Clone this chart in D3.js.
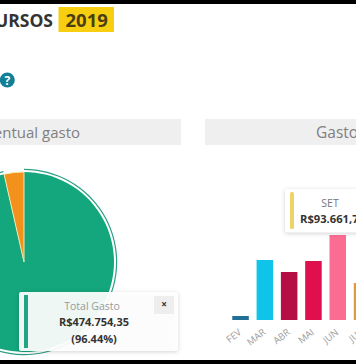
<!DOCTYPE html>
<html><head><meta charset="utf-8">
<script src="https://cdn.jsdelivr.net/npm/d3@7"></script>
<style>html,body{margin:0;padding:0;background:#fff;overflow:hidden}svg{display:block}</style>
</head><body><svg id="c" width="356" height="364"></svg>
<script>
const months=["FEV","MAR","ABR","MAI","JUN","JUL"];
const monthValues=[4000,60000,48000,59000,85000,37000];
const monthColors=["#1f6f96","#0fc4e8","#b40e45","#e0104f","#fb6c93","#e09a3a"];
const pieNames=["Total Gasto","Restante"];
const pieValues=[474754.35,17526];
const pieColors=["#14a67c","#f2921d"];
const svg=d3.select("#c");
const font="'Open Sans',sans-serif";
const T=(x,y,s,size,fill,anchor,weight)=>svg.append("text").attr("x",x).attr("y",y).text(s).attr("font-family",font).attr("font-size",size).attr("fill",fill).attr("text-anchor",anchor||"start").attr("font-weight",weight||400);
const R=(x,y,w,h,f)=>svg.append("rect").attr("x",x).attr("y",y).attr("width",w).attr("height",h).attr("fill",f);
R(58.5,7,55.5,25,"#f8cf10");
T(53,27,"URSOS",17.5,"#333","end",700);
T(65.5,27,"2019",18.5,"#4a3f10","start",700);
svg.append("circle").attr("cx",7.3).attr("cy",80).attr("r",7.5).attr("fill","#127f97");
T(7.3,84.5,"?",12,"#fff","middle",700);
R(0,119,181,26,"#efefef");R(205,119,151,26,"#efefef");
T(80,138,"entual gasto",15,"#808080","end");
T(316,138,"Gasto",15.5,"#808080");
// pie
const cx=24,cy=262,r=90;
const slices=d3.pie().sort(null)(pieValues);
const arc=d3.arc().innerRadius(0).outerRadius(r);
const g=svg.append("g").attr("transform",`translate(${cx},${cy})`);
g.selectAll("path.s").data(slices).join("path").attr("class","s").attr("d",arc).attr("fill",(d,i)=>pieColors[i]).attr("stroke",(d,i)=>i?"#f6e6b0":"none").attr("stroke-width",1);
g.append("path").attr("d",d3.arc().innerRadius(92).outerRadius(93.2)(slices[0])).attr("fill","#2a9f86");
// bars
const x=d3.scaleBand().domain(months).range([224.5,378.1]).padding(0.32);
const y=d3.scaleLinear().domain([0,85000]).range([320,235]);
svg.selectAll("rect.b").data(months).join("rect").attr("class","b").attr("x",d=>x(d)).attr("width",x.bandwidth())
 .attr("y",(d,i)=>y(monthValues[i])).attr("height",(d,i)=>320-y(monthValues[i])).attr("fill",(d,i)=>monthColors[i]);
months.forEach(m=>{const px=x(m)+x.bandwidth()/2;
 svg.append("text").text(m).attr("transform",`translate(${px+1.5},333.5) rotate(-38)`).attr("text-anchor","end").attr("font-family",font).attr("font-size",9.5).attr("fill","#9c9c9c");});
// tooltips
const shadow="drop-shadow(0 1px 2px rgba(0,0,0,.18))";
R(285,189,75,43.5,"#fff").attr("rx",2).style("filter",shadow);
R(290,192,4,37,"#ecd566").attr("rx",1.5);
T(330,207,"SET",10.5,"#777","middle");
T(300,223,"R$93.661,7",11.2,"#333","start",700);
R(19,292,159,59,"rgba(255,255,255,.93)").attr("rx",2).style("filter",shadow);
R(24,295,4,53,"#23a585");
T(92,310,"Total Gasto",10.5,"#999","middle");
T(94,326,"R$474.754,35",11,"#333","middle",700);
T(94,343,"(96.44%)",11,"#333","middle",700);
R(154,296,20,18,"#eeeeee");
T(164,308,"×",10,"#333","middle",700);
R(0,0,356,4,"#000");R(0,360,356,4,"#000");
</script></body></html>
